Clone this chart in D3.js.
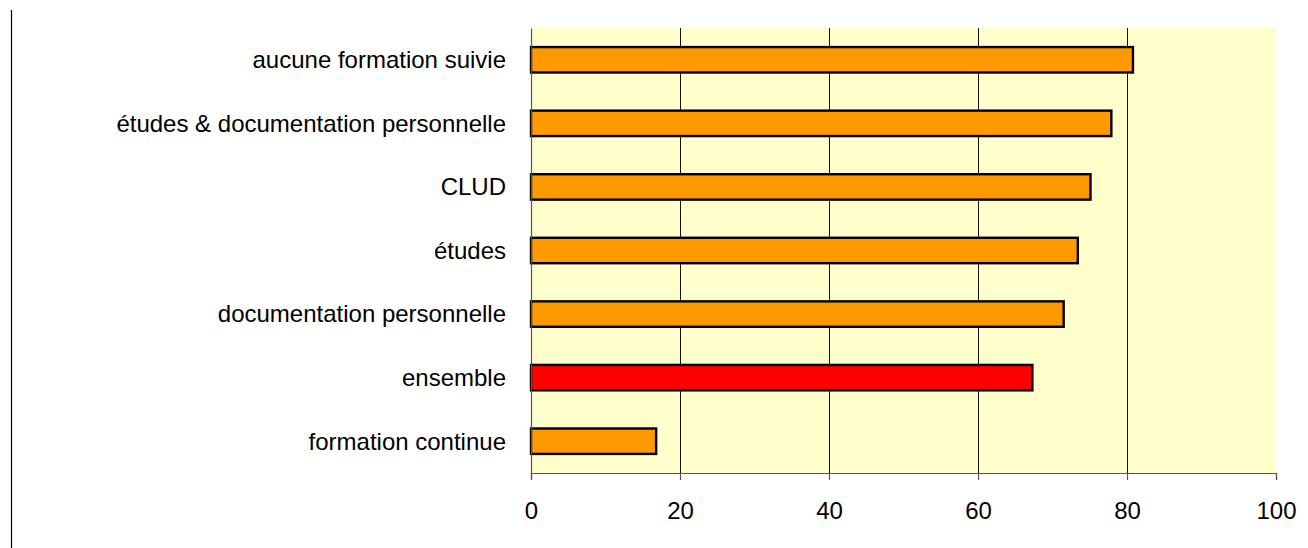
<!DOCTYPE html>
<html>
<head>
<meta charset="utf-8">
<script src="https://cdn.jsdelivr.net/npm/d3@7"></script>
<style>
  body { margin: 0; background: #fff; }
  text { font-family: "Liberation Sans", Arial, sans-serif; fill: #000; }
</style>
</head>
<body>
<script>
// categories, top to bottom
var categories = [
    "aucune formation suivie",
    "études & documentation personnelle",
    "CLUD",
    "études",
    "documentation personnelle",
    "ensemble",
    "formation continue"
];
// percentages
var values = [80.8, 77.9, 75.1, 73.4, 71.5, 67.3, 16.8];
var highlighted = ["ensemble"];
var ticks = [0, 20, 40, 60, 80, 100];

var widthScr = 1308;
var heightScr = 548;
var margin = { top: 28, right: 32, bottom: 75, left: 531 };
var plotW = widthScr - margin.left - margin.right;
var plotH = heightScr - margin.top - margin.bottom;

var svg = d3.select("body").append("svg")
    .attr("width", widthScr)
    .attr("height", heightScr);

// frame line on the left
svg.append("line")
    .attr("x1", 11.5).attr("x2", 11.5)
    .attr("y1", 10).attr("y2", heightScr)
    .attr("stroke", "#000")
    .attr("stroke-width", 1.2);

var g = svg.append("g")
    .attr("transform", "translate(" + margin.left + "," + margin.top + ")");

var x = d3.scaleLinear().domain([0, 100]).range([0, plotW]);
var y = d3.scaleBand().domain(categories).range([0, plotH]).paddingInner(0.6).paddingOuter(0.3);

// plot background
g.append("rect")
    .attr("width", plotW)
    .attr("height", plotH)
    .attr("fill", "#FFFFCC");

// vertical gridlines
g.selectAll(".grid")
    .data(ticks.slice(1, -1))
    .enter().append("line")
    .attr("x1", d => Math.round(x(d)) + 0.5).attr("x2", d => Math.round(x(d)) + 0.5)
    .attr("y1", 0).attr("y2", plotH)
    .attr("stroke", "#111")
    .attr("stroke-width", 1);

// bars
g.selectAll(".bar")
    .data(categories)
    .enter().append("rect")
    .attr("x", 0)
    .attr("y", d => y(d))
    .attr("width", (d, i) => x(values[i]))
    .attr("height", y.bandwidth())
    .attr("fill", d => highlighted.indexOf(d) >= 0 ? "#FF0000" : "#FF9900")
    .attr("stroke", "#000")
    .attr("stroke-width", 2.4);

// x axis
var xAxis = g.append("g")
    .attr("transform", "translate(0," + plotH + ")")
    .call(d3.axisBottom(x).tickValues(ticks).tickSize(7).tickPadding(22));
xAxis.select(".domain").attr("stroke", "#555").attr("stroke-width", 1.2);
xAxis.selectAll(".tick line").attr("stroke", "#555").attr("stroke-width", 1.2);
xAxis.selectAll("text").style("font-size", "24px").attr("fill", "#000");

// y axis
var yAxis = g.append("g")
    .call(d3.axisLeft(y).tickSize(0).tickPadding(25));
yAxis.select(".domain").attr("stroke", "#555").attr("stroke-width", 1.2);
yAxis.selectAll("text").style("font-size", "24px").attr("fill", "#000").attr("dy", "0.35em");
</script>
</body>
</html>
